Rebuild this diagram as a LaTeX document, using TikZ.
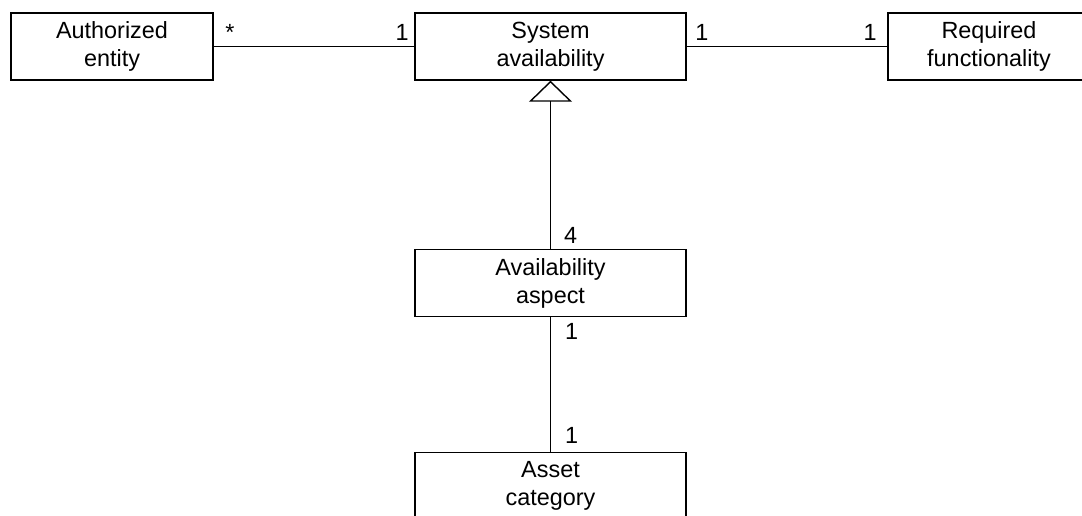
\documentclass[tikz,border=0pt]{standalone}
\usepackage{fontspec}
\setmainfont{Liberation Sans}
\usetikzlibrary{arrows.meta,positioning}

\begin{document}
\begin{tikzpicture}[x=1pt,y=-1pt,line width=1.4pt,
		cls/.style={draw, fill=white, align=center, minimum height=67pt, inner sep=0pt,
			font=\fontsize{23.4}{28}\selectfont},
		mult/.style={inner sep=5pt, font=\fontsize{23.4}{28}\selectfont},
		gen/.style={-{Triangle[open,length=21pt,width=43pt,line width=1.4pt]}}]
				\clip (0,0) rectangle (1082,515);
				\node[cls, minimum width=202pt] (auth) at (112,46.5) {Authorized\\entity};
				\node[cls, minimum width=271pt] (sysav) at (550.5,46.5) {System\\availability};
				\node[cls, minimum width=202pt] (reqfn) at (989,46.5) {Required\\functionality};
				\node[cls, minimum width=271pt] (aspect) at (550.5,283) {Availability\\aspect};
				\node[cls, minimum width=271pt] (asset) at (550.5,486) {Asset\\category};
				\draw (auth) -- node[mult, pos=0, anchor=south west, xshift=6pt] (m1) {*}
					node[mult, pos=1, anchor=south east] (m2) {1} (sysav);
				\draw (sysav) -- node[mult, pos=0, anchor=south west, xshift=3pt] (m3) {1}
					node[mult, pos=1, anchor=south east, xshift=-5pt] (m4) {1} (reqfn);
				\draw[gen] (aspect) -- node[mult, pos=0, anchor=south west, xshift=8pt] (m5) {4} (sysav);
				\draw (aspect) -- node[mult, pos=0, anchor=north west, xshift=9pt] (m6) {1}
					node[mult, pos=1, anchor=south west, xshift=9pt, yshift=3pt] (m7) {1} (asset);
				\end{tikzpicture}
\end{document}
